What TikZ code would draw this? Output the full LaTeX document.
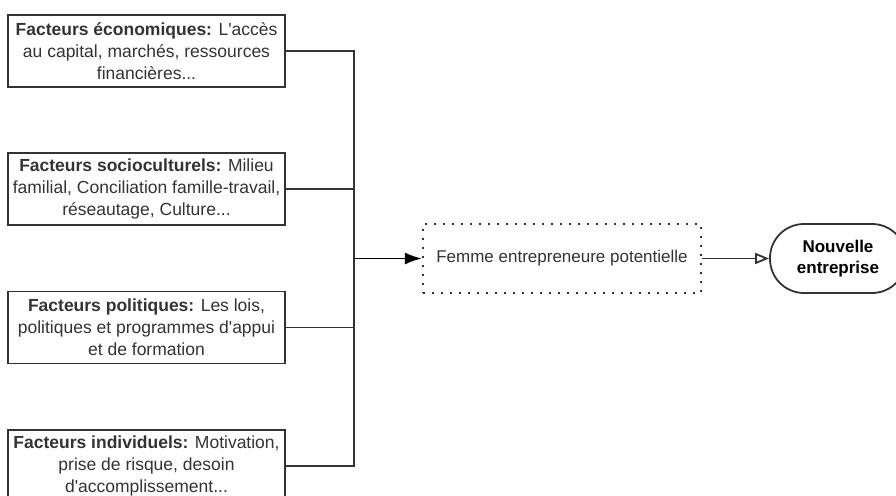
\documentclass[tikz,border=0pt]{standalone}
\usepackage{fontspec}
\newfontfamily\arial{Liberation Sans}
\usetikzlibrary{arrows.meta}
\definecolor{ink}{HTML}{333333}
\begin{document}
\begin{tikzpicture}[x=1pt,y=-1pt,
  factor/.style={draw=ink, line width=1.8pt, minimum width=277pt, minimum height=72pt,
    align=center, text=ink, inner sep=0pt, font=\arial\fontsize{17.5}{22}\selectfont},
  dottedbox/.style={draw=ink, line width=2.2pt, dash pattern=on 2pt off 7pt,
    minimum width=278pt, minimum height=69pt, inner sep=0pt, text=ink,
    font=\arial\fontsize{17}{20}\selectfont},
  terminal/.style={draw=ink, line width=1.8pt, rounded corners=34pt, minimum width=136pt,
    minimum height=69pt, inner sep=0pt, align=center, text=black,
    font=\arial\bfseries\fontsize{17}{20.5}\selectfont},
  wire/.style={draw=ink, line width=1.8pt},
]
\useasboundingbox (0,0) rectangle (896,495);
\node[factor] (f1) at (146.5,51) {\textbf{Facteurs économiques:} L'accès\\au capital, marchés, ressources\\financières...};
\node[factor] (f2) at (146.5,189) {\textbf{Facteurs socioculturels:} Milieu\\familial, Conciliation famille-travail,\\réseautage, Culture...};
\node[factor] (f3) at (146.5,327.5) {\textbf{Facteurs politiques:} Les lois,\\politiques et programmes d'appui\\et de formation};
\node[factor] (f4) at (146.5,466) {\textbf{Facteurs individuels:} Motivation,\\prise de risque, desoin\\d'accomplissement...};
\node[dottedbox] (fe) at (562,258.5) {Femme entrepreneure potentielle};
\node[terminal] (ne) at (838,258.5) {Nouvelle\\entreprise};
\coordinate (bus) at (354,258.5);
\coordinate (bustop) at (bus |- f1.east);
\coordinate (busbot) at (bus |- f4.east);
\draw[wire] (f1.east) -- (bustop) -- (busbot) -- (f4.east);
\draw[wire] (f2.east) -- (bus |- f2.east);
\draw[wire] (f3.east) -- (bus |- f3.east);
\draw[wire, draw=black, -{Latex[length=17pt,width=12pt]}] (bus) -- (fe.west);
\draw[wire, -{Triangle[open,length=14pt,width=11pt]}] (fe.east) -- (ne.west);
\end{tikzpicture}
\end{document}
